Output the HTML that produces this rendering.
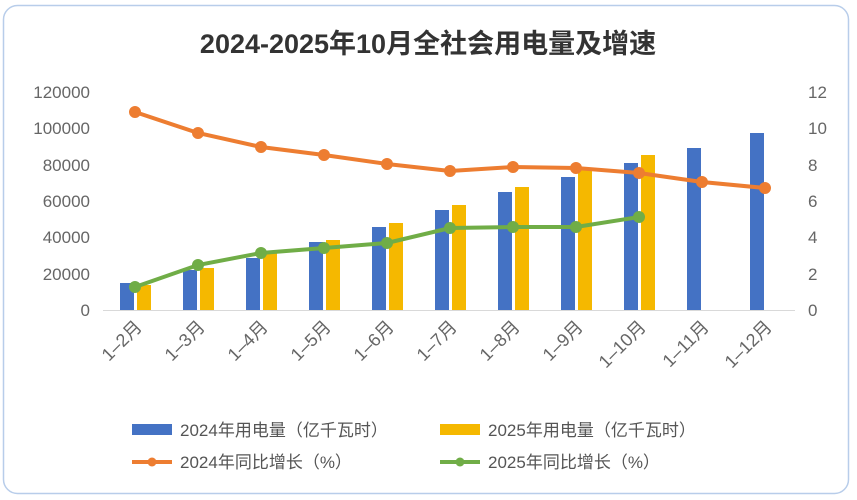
<!DOCTYPE html>
<html><head><meta charset="utf-8"><style>
body{margin:0;background:#fff;}
svg{display:block;font-family:"Liberation Sans","Noto Sans CJK SC",sans-serif;}
</style></head><body>
<svg width="857" height="500" viewBox="0 0 857 500">
<rect x="3.5" y="5.5" width="845" height="488" rx="14" fill="#fff" stroke="#b8cdea" stroke-width="1.5"/>
<text x="428" y="53" text-anchor="middle" font-size="27" font-weight="bold" fill="#333">2024-2025年10月全社会用电量及增速</text>
<g font-size="17" fill="#666" text-anchor="end">
<text x="90" y="316">0</text><text x="90" y="280">20000</text><text x="90" y="243">40000</text><text x="90" y="207">60000</text><text x="90" y="171">80000</text><text x="90" y="134">100000</text><text x="90" y="98">120000</text>
</g>
<g font-size="17" fill="#666">
<text x="808" y="316">0</text><text x="808" y="280">2</text><text x="808" y="243">4</text><text x="808" y="207">6</text><text x="808" y="171">8</text><text x="808" y="134">10</text><text x="808" y="98">12</text>
</g>
<line x1="103" y1="310.5" x2="795" y2="310.5" stroke="#d9d9d9" stroke-width="1"/>
<g fill="#4472c4">
<rect x="120" y="283" width="14" height="27"/><rect x="183" y="270" width="14" height="40"/><rect x="246" y="258" width="14" height="52"/><rect x="309" y="242" width="14" height="68"/><rect x="372" y="227" width="14" height="83"/><rect x="435" y="210" width="14" height="100"/><rect x="498" y="192" width="14" height="118"/><rect x="561" y="177" width="14" height="133"/><rect x="624" y="163" width="14" height="147"/><rect x="687" y="148" width="14" height="162"/><rect x="750" y="133" width="14" height="177"/>
</g>
<g fill="#f5b800">
<rect x="137" y="285" width="14" height="25"/><rect x="200" y="268" width="14" height="42"/><rect x="263" y="253" width="14" height="57"/><rect x="326" y="240" width="14" height="70"/><rect x="389" y="223" width="14" height="87"/><rect x="452" y="205" width="14" height="105"/><rect x="515" y="187" width="14" height="123"/><rect x="578" y="168" width="14" height="142"/><rect x="641" y="155" width="14" height="155"/>
</g>
<g stroke="#ed7d31" stroke-width="4" fill="#ed7d31">
<polyline fill="none" points="135,112 198,133 261,147 324,155 387,164 450,171 513,167 576,168 639,173 702,182 765,188"/>
<circle cx="135" cy="112" r="4"/><circle cx="198" cy="133" r="4"/><circle cx="261" cy="147" r="4"/><circle cx="324" cy="155" r="4"/><circle cx="387" cy="164" r="4"/><circle cx="450" cy="171" r="4"/><circle cx="513" cy="167" r="4"/><circle cx="576" cy="168" r="4"/><circle cx="639" cy="173" r="4"/><circle cx="702" cy="182" r="4"/><circle cx="765" cy="188" r="4"/>
</g>
<g stroke="#70ad47" stroke-width="4" fill="#70ad47">
<polyline fill="none" points="135,287 198,265 261,253 324,248 387,243 450,228 513,227 576,227 639,217"/>
<circle cx="135" cy="287" r="4"/><circle cx="198" cy="265" r="4"/><circle cx="261" cy="253" r="4"/><circle cx="324" cy="248" r="4"/><circle cx="387" cy="243" r="4"/><circle cx="450" cy="228" r="4"/><circle cx="513" cy="227" r="4"/><circle cx="576" cy="227" r="4"/><circle cx="639" cy="217" r="4"/>
</g>
<g font-size="18" fill="#666" text-anchor="end">
<text transform="translate(143,328) rotate(-45)">1–2月</text>
<text transform="translate(206,328) rotate(-45)">1–3月</text>
<text transform="translate(269,328) rotate(-45)">1–4月</text>
<text transform="translate(332,328) rotate(-45)">1–5月</text>
<text transform="translate(395,328) rotate(-45)">1–6月</text>
<text transform="translate(458,328) rotate(-45)">1–7月</text>
<text transform="translate(521,328) rotate(-45)">1–8月</text>
<text transform="translate(584,328) rotate(-45)">1–9月</text>
<text transform="translate(647,328) rotate(-45)">1–10月</text>
<text transform="translate(710,328) rotate(-45)">1–11月</text>
<text transform="translate(773,328) rotate(-45)">1–12月</text>
</g>
<rect x="132" y="424" width="40" height="11" fill="#4472c4"/>
<text x="180" y="436" font-size="17" fill="#555">2024年用电量（亿千瓦时）</text>
<rect x="440" y="424" width="40" height="11" fill="#f5b800"/>
<text x="488" y="436" font-size="17" fill="#555">2025年用电量（亿千瓦时）</text>
<line x1="132" y1="462" x2="172" y2="462" stroke="#ed7d31" stroke-width="4"/><circle cx="152" cy="462" r="4.5" fill="#ed7d31"/>
<text x="180" y="468" font-size="17" fill="#555">2024年同比增长（%）</text>
<line x1="440" y1="462" x2="480" y2="462" stroke="#70ad47" stroke-width="4"/><circle cx="460" cy="462" r="4.5" fill="#70ad47"/>
<text x="488" y="468" font-size="17" fill="#555">2025年同比增长（%）</text>
</svg>
</body></html>
